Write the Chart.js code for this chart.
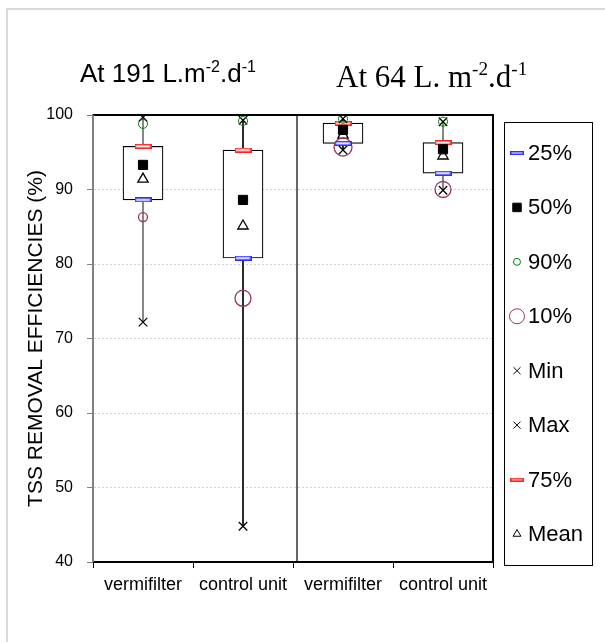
<!DOCTYPE html>
<html>
<head>
<meta charset="utf-8">
<script src="https://cdn.jsdelivr.net/npm/chart.js@4.4.1/dist/chart.umd.min.js"></script>
<style>
  body { margin: 0; background: #fff; }
  #wrap { position: relative; width: 605px; height: 642px; }
</style>
</head>
<body>
<div id="wrap"><canvas id="tssChart" width="605" height="642"></canvas></div>
<script>
// units, two per loading rate
const units = ['vermifilter', 'control unit', 'vermifilter', 'control unit'];
const yTicks = [40, 50, 60, 70, 80, 90, 100];

// TSS removal efficiencies (%)
const p25 = [88.6, 80.8, 96.2, 92.2];
const p50 = [93.3, 88.6, 98.0, 95.4];
const p90 = [98.8, 99.2, 99.5, 99.1];
const p10 = [86.3, 75.4, 95.7, 90.0];
const minVals = [72.2, 44.8, 95.3, 89.9];
const maxVals = [99.7, 99.3, 99.5, 99.1];
const p75 = [95.8, 95.3, 98.9, 96.3];
const meanVals = [91.4, 85.1, 97.3, 94.5];

const ARIAL = '"Liberation Sans", Arial, sans-serif';
const TIMES = '"Liberation Serif", "Times New Roman", serif';

// little flat bars used for the 25% / 75% markers
function barMarker(color, w, h) {
    const c = document.createElement('canvas');
    c.width = w;
    c.height = h;
    const g = c.getContext('2d');
    g.fillStyle = '#fff';
    g.fillRect(0, 0, w, h);
    g.strokeStyle = color;
    g.lineWidth = 1.5;
    g.strokeRect(0.75, 0.75, w - 1.5, h - 1.5);
    return c;
}

function markers(label, values, opts) {
    return Object.assign({
        type: 'line',
        label: label,
        data: values,
        showLine: false,
        order: 0,
        pointBorderWidth: 1,
        pointHoverRadius: 0
    }, opts);
}

const datasets = [
    markers('25%', p25, { pointStyle: barMarker('#2f2fff', 17, 5), legendStyle: barMarker('#2f2fff', 14, 4) }),
    markers('50%', p50, { pointStyle: 'rect', pointRadius: 6.5, pointBackgroundColor: '#000', pointBorderColor: '#000', legendRadius: 6 }),
    markers('90%', p90, { pointStyle: 'circle', pointRadius: 4.5, pointBackgroundColor: 'rgba(0,0,0,0)', pointBorderColor: '#008000', legendRadius: 3.5 }),
    markers('10%', p10, { pointStyle: 'circle', pointRadius: [4.5, 8, 9, 8], pointBackgroundColor: 'rgba(0,0,0,0)', pointBorderColor: '#993366', pointBorderWidth: 1.3, legendRadius: 7.5 }),
    markers('Min', minVals, { pointStyle: 'crossRot', pointRadius: 6, pointBorderColor: '#000', pointBorderWidth: 1.3, legendRadius: 5 }),
    markers('Max', maxVals, { pointStyle: 'crossRot', pointRadius: 6, pointBorderColor: '#000', pointBorderWidth: 1.3, legendRadius: 5 }),
    markers('75%', p75, { pointStyle: barMarker('#ff2020', 17, 5), legendStyle: barMarker('#ff2020', 14, 4) }),
    markers('Mean', meanVals, { pointStyle: 'triangle', pointRadius: 6, pointBackgroundColor: '#fff', pointBorderColor: '#000', pointBorderWidth: 1.3, legendRadius: 4.5 }),
    {
        type: 'bar',
        label: 'box',
        data: p25.map((v, i) => [v, p75[i]]),
        backgroundColor: '#fff',
        borderColor: '#000',
        borderWidth: 1.2,
        borderSkipped: false,
        barThickness: 40,
        grouped: false,
        order: 5
    },
    {
        type: 'bar',
        label: 'whisker',
        data: minVals.map((v, i) => [v, maxVals[i]]),
        backgroundColor: ['#6e6e6e', '#000', '#000', '#6e6e6e'],
        borderWidth: 0,
        barThickness: 1,
        grouped: false,
        order: 10
    }
];

// superscript-aware text
function drawRich(ctx, x, y, parts, font, size) {
    ctx.save();
    ctx.fillStyle = '#000';
    ctx.textBaseline = 'alphabetic';
    ctx.textAlign = 'left';
    parts.forEach(p => {
        const s = p.sup ? size * 0.62 : size;
        ctx.font = s + 'px ' + font;
        ctx.fillText(p.t, x, p.sup ? y - size * 0.38 : y);
        x += ctx.measureText(p.t).width;
    });
    ctx.restore();
}

const decorations = {
    id: 'decorations',
    beforeDraw(chart) {
        const ctx = chart.ctx;
        ctx.save();
        ctx.strokeStyle = '#dadada';
        ctx.lineWidth = 2;
        ctx.beginPath();
        ctx.moveTo(7, 642);
        ctx.lineTo(7, 9);
        ctx.lineTo(605, 9);
        ctx.stroke();
        ctx.restore();
    },
    afterDraw(chart) {
        const ctx = chart.ctx;
        const a = chart.chartArea;
        const x = chart.scales.x;

        ctx.save();
        ctx.setLineDash([]);
        // plot frame
        ctx.strokeStyle = '#000';
        ctx.lineWidth = 2;
        ctx.beginPath();
        ctx.moveTo(a.left, a.top);
        ctx.lineTo(a.right, a.top);
        ctx.lineTo(a.right, a.bottom);
        ctx.lineTo(a.left, a.bottom);
        ctx.stroke();
        ctx.strokeStyle = '#808080';
        ctx.beginPath();
        ctx.moveTo(a.left, a.top);
        ctx.lineTo(a.left, a.bottom);
        ctx.stroke();

        // divider between the two loading rates
        const mid = (x.getPixelForValue(1) + x.getPixelForValue(2)) / 2 + 4;
        ctx.strokeStyle = '#000';
        ctx.lineWidth = 1.2;
        ctx.beginPath();
        ctx.moveTo(mid, a.top);
        ctx.lineTo(mid, a.bottom);
        ctx.stroke();

        // y axis title
        ctx.save();
        ctx.translate(36, (a.top + a.bottom) / 2);
        ctx.rotate(-Math.PI / 2);
        ctx.font = '21px ' + ARIAL;
        ctx.fillStyle = '#000';
        ctx.textAlign = 'center';
        ctx.textBaseline = 'middle';
        ctx.fillText('TSS REMOVAL EFFICIENCIES (%)', 0, 0);
        ctx.restore();

        // rate headings
        drawRich(ctx, 80, 82, [{ t: 'At 191 L.m' }, { t: '-2', sup: true }, { t: '.d' }, { t: '-1', sup: true }], ARIAL, 26);
        drawRich(ctx, 336, 87, [{ t: 'At 64 L. m' }, { t: '-2', sup: true }, { t: '.d' }, { t: '-1', sup: true }], TIMES, 31);

        // legend
        const items = chart.data.datasets.filter(d => d.type === 'line');
        const boxL = 504, boxT = 122, boxW = 88, boxH = 443;
        ctx.strokeStyle = '#000';
        ctx.lineWidth = 1;
        ctx.strokeRect(boxL + 0.5, boxT + 0.5, boxW, boxH);
        const step = (boxH - 62) / (items.length - 1);
        items.forEach((d, i) => {
            const cy = boxT + 31 + i * step;
            const cx = boxL + 13;
            ctx.fillStyle = d.pointBackgroundColor || '#000';
            ctx.strokeStyle = d.pointBorderColor || '#000';
            ctx.lineWidth = 1;
            if (d.legendStyle) {
                ctx.drawImage(d.legendStyle, cx - d.legendStyle.width / 2, cy - d.legendStyle.height / 2);
            } else {
                Chart.helpers.drawPoint(ctx, {
                    pointStyle: d.pointStyle, radius: d.legendRadius, rotation: 0, borderWidth: 1
                }, cx, cy);
            }
            ctx.fillStyle = '#000';
            ctx.font = '22px ' + ARIAL;
            ctx.textAlign = 'left';
            ctx.textBaseline = 'middle';
            ctx.fillText(d.label, boxL + 24, cy + 1);
        });
        ctx.restore();
    }
};

new Chart(document.getElementById('tssChart'), {
    data: {
        labels: units,
        datasets: datasets
    },
    options: {
        responsive: false,
        animation: false,
        events: [],
        layout: { padding: { top: 115, right: 112, left: 0, bottom: 0 } },
        plugins: {
            legend: { display: false },
            tooltip: { enabled: false }
        },
        scales: {
            x: {
                type: 'category',
                offset: true,
                afterFit: s => { s.height = 80; },
                grid: { offset: true, drawOnChartArea: false, tickLength: 6, tickColor: '#000', tickWidth: 1 },
                border: { color: '#000', width: 2 },
                ticks: { color: '#000', font: { family: ARIAL, size: 18 }, padding: 6, maxRotation: 0 }
            },
            y: {
                min: 40,
                max: 100,
                afterFit: s => { s.width = 93; },
                afterBuildTicks: s => { s.ticks = yTicks.map(v => ({ value: v })); },
                grid: {
                    color: c => (c.tick && (c.tick.value === 40 || c.tick.value === 100)) ? 'rgba(0,0,0,0)' : '#cfcfcf',
                    tickLength: 6,
                    tickColor: '#808080',
                    tickBorderDash: []
                },
                border: { color: '#808080', width: 2, dash: [2, 2] },
                ticks: { color: '#000', font: { family: ARIAL, size: 16 }, padding: 14 }
            }
        }
    },
    plugins: [decorations]
});
</script>
</body>
</html>
